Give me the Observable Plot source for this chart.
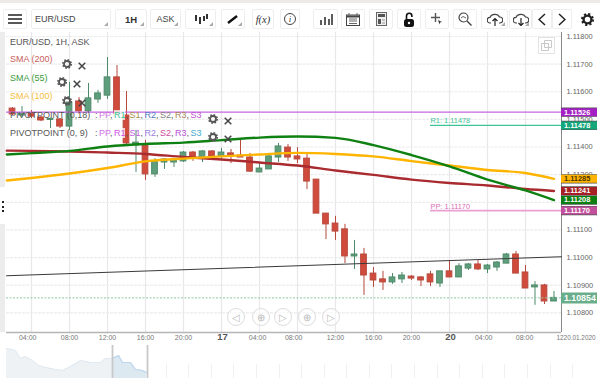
<!DOCTYPE html>
<html><head><meta charset="utf-8">
<script src="https://cdn.jsdelivr.net/npm/d3@7"></script>
<script src="https://cdn.jsdelivr.net/npm/@observablehq/plot@0.6"></script>
<style>
html,body{margin:0;padding:0;background:#fff;width:600px;height:378px;overflow:hidden;font-family:"Liberation Sans",Arial,sans-serif}
#wrap{position:relative;width:600px;height:378px;overflow:hidden}
#wrap>div>svg{display:block}
#main,#nav{position:absolute;left:0}
#main{top:0}#nav{top:345px}
.btn{position:absolute;top:9px;height:20px;border:1px solid #eee;box-sizing:border-box;background:#fff;border-radius:2px;display:flex;align-items:center;justify-content:center;font-size:9.5px;color:#333}
.btn.m::after{content:"";position:absolute;right:2px;bottom:2px;border-style:solid;border-width:0 0 4px 4px;border-color:transparent transparent #aaa transparent}
.lg{position:absolute;font-size:9px;line-height:12px;white-space:nowrap;color:#555}
.ic{position:absolute;width:10px;height:10px;display:block}
.ci{position:absolute;width:18px;height:18px;border:1px solid #ddd;border-radius:50%;box-sizing:border-box;top:308px;display:flex;align-items:center;justify-content:center;color:#bbb;font-size:10px;background:rgba(255,255,255,.5)}
</style></head><body><div id="wrap">
<div id="main"></div><div id="nav"></div>
<div style="position:absolute;left:0;top:0;width:600px;height:3px;background:#eeeaea"></div>
<div style="position:absolute;left:0;top:32px;width:5px;height:300px;background:#ececec"></div>
<div style="position:absolute;left:0;top:187px;width:5px;height:37px;background:#fff"></div>
<div style="position:absolute;left:2px;top:201px;width:2px;height:11px;font-size:0;background:repeating-linear-gradient(#222 0 2px,transparent 2px 4.5px)"></div>
<div id="bar"></div><div id="legend"></div><div id="cbtn"></div>
</div>
<script>
// Candles: hour index from 00:00 on the 16th
const hours=[2,3,4,5,6,7,8,9,10,11,12,13,14,15,16,17,18,19,20,21,22,23,24,25,26,27,28,29,30,31,32,33,34,35,36,37,38,39,40,41,42,43,44,45,46,47,48,49,50,51,52,53,54,55,56,57,58,59];
const opens=[1.11539,1.11514,1.11521,1.11507,1.11498,1.11500,1.11474,1.11565,1.11529,1.11572,1.11586,1.11652,1.11514,1.11406,1.11409,1.11301,1.11344,1.11344,1.11348,1.11380,1.11362,1.11384,1.11366,1.11377,1.11369,1.11362,1.11308,1.11319,1.11362,1.11398,1.11366,1.11358,1.11282,1.11159,1.11123,1.11102,1.11004,1.11011,1.10942,1.10921,1.10910,1.10921,1.10931,1.10928,1.10939,1.10906,1.10950,1.10928,1.10960,1.10975,1.10957,1.10964,1.10978,1.11011,1.10946,1.10892,1.10899,1.10841];
const closes=[1.11518,1.11521,1.11510,1.11496,1.11502,1.11474,1.11561,1.11529,1.11576,1.11594,1.11652,1.11521,1.11413,1.11416,1.11301,1.11348,1.11355,1.11355,1.11380,1.11362,1.11384,1.11366,1.11380,1.11369,1.11362,1.11311,1.11322,1.11366,1.11402,1.11362,1.11355,1.11275,1.11159,1.11120,1.11094,1.11004,1.11011,1.10935,1.10917,1.10910,1.10928,1.10935,1.10924,1.10917,1.10910,1.10950,1.10928,1.10968,1.10975,1.10957,1.10971,1.10982,1.11011,1.10942,1.10888,1.10899,1.10841,1.10854];
const highs=[1.11543,1.11547,1.11532,1.11510,1.11504,1.11503,1.11634,1.11579,1.11630,1.11605,1.11724,1.11695,1.11601,1.11460,1.11424,1.11358,1.11358,1.11358,1.11384,1.11384,1.11387,1.11387,1.11395,1.11391,1.11427,1.11377,1.11340,1.11377,1.11413,1.11409,1.11398,1.11380,1.11282,1.11159,1.11149,1.11120,1.11062,1.11033,1.10964,1.10950,1.10942,1.10946,1.10935,1.10931,1.10950,1.10950,1.10989,1.10978,1.10978,1.10989,1.10975,1.10986,1.11015,1.11022,1.10971,1.10913,1.10903,1.10877];
const lows=[1.11514,1.11507,1.11503,1.11492,1.11467,1.11467,1.11460,1.11521,1.11521,1.11558,1.11572,1.11514,1.11406,1.11308,1.11279,1.11290,1.11319,1.11326,1.11344,1.11348,1.11344,1.11351,1.11351,1.11340,1.11362,1.11308,1.11308,1.11319,1.11344,1.11348,1.11340,1.11246,1.11159,1.11065,1.11062,1.10978,1.10957,1.10863,1.10892,1.10881,1.10903,1.10906,1.10917,1.10895,1.10895,1.10892,1.10928,1.10928,1.10953,1.10953,1.10942,1.10950,1.10978,1.10942,1.10888,1.10827,1.10830,1.10841];

// Moving averages
const smaHours=[1.4,4,8,12,16,20,24,28,32,36,40,44,48,52,56,59];
const sma200=[1.11387,1.11386,1.11384,1.11380,1.11375,1.11364,1.11355,1.11344,1.11333,1.11315,1.11299,1.11282,1.11270,1.11261,1.11248,1.11241];
const sma55=[1.11373,1.11378,1.11386,1.11402,1.11411,1.11416,1.11425,1.11434,1.11438,1.11433,1.11407,1.11371,1.11330,1.11282,1.11243,1.11208];
const sma100=[1.11279,1.11288,1.11304,1.11324,1.11348,1.11358,1.11366,1.11373,1.11379,1.11375,1.11366,1.11349,1.11333,1.11317,1.11306,1.11285];

// Trend line and levels
const trendHours=[1.37,59.79];
const trendPrices=[1.10934,1.11003];
const tagPrices=[1.11526,1.11478,1.11285,1.11241,1.11208,1.11170,1.10854];
const tagColors=["#a41fc4","#15a77c","#ffb400","#a51f24","#0d7f10","#c2509c","#69ad8a"];
const tagInk=["#fff","#fff","#4a3500","#fff","#fff","#fff","#fff"];

// Axis ticks
const gridPrices=[1.118,1.117,1.116,1.115,1.114,1.113,1.112,1.111,1.110,1.109,1.108];
const priceLabels=[1.118,1.117,1.116,1.115,1.114,1.113,1.111,1.110,1.109,1.108];
const gridHours=[4,8,12,16,20,24,28,32,36,40,44,48,52,56];
const hourLabelAt=[3.6,8,12,16,20,27.8,31.6,36,40,44,51.6,55.9];
const hourLabels=["04:00","08:00","12:00","16:00","20:00","04:00","08:00","12:00","16:00","20:00","04:00","08:00"];
const dayLabelAt=[24.1,48.1];
const dayLabels=["17","20"];

// Navigator
const navX=[6,15,20,25,32,38,45,55,62,70,80,90,100,105,112,118,122,130,135,142,146];
const navV=[30,28,20,22,18,13,11,9,8,12,18,16,16,20,20,23,16,16,9,8,6];
const navTicks=[166,188,211,233,256,279,301,324,346,369,391,414,437,459,482,504,527,550,572];

const UP="#5f9e7c",DOWN="#d04b3b",UPW="#4d8a69",DOWNW="#b7493d";
const candles=hours.map((h,k)=>({h,o:opens[k],c:closes[k],hi:highs[k],lo:lows[k],up:closes[k]>=opens[k]}));
const line=(xs,ys)=>xs.map((x,k)=>({x,y:ys[k]}));
const tags=tagPrices.map((p,k)=>({p,col:tagColors[k],ink:tagInk[k],last:k===6}));
const tagL=59.79,tagR=63.58,tagText=60.05;

const chart=Plot.plot({
  width:600,height:345,marginTop:32,marginBottom:13,marginLeft:6,marginRight:39,
  style:{background:"#fff",fontFamily:"'Liberation Sans',Arial,sans-serif",overflow:"visible"},
  x:{domain:[1.368,59.79],axis:null},
  y:{domain:[1.107287,1.118145],axis:null},
  marks:[
    Plot.gridX(gridHours,{stroke:"#e9e6ec",strokeOpacity:1,strokeWidth:1.2}),
    Plot.gridY(gridPrices,{stroke:"#ececec",strokeOpacity:1,strokeWidth:1.2,strokeDasharray:"3 1"}),
    Plot.axisY({anchor:"right",ticks:priceLabels,tickFormat:d3.format(".5f"),tickSize:0,tickPadding:5,fontSize:7.4,fill:"#666",label:null}),
    Plot.ruleY([1.107287],{stroke:"#b5b5b5",strokeWidth:1.5}),
    Plot.ruleX([59.79],{stroke:"#888",strokeWidth:1}),
    Plot.ruleX(candles,{x:"h",y1:"lo",y2:"hi",stroke:d=>d.up?UPW:DOWNW,strokeWidth:1}),
    Plot.rect(candles,{x1:d=>d.h-0.3,x2:d=>d.h+0.3,y1:"o",y2:"c",fill:d=>d.up?UP:DOWN,stroke:d=>d.up?UPW:DOWNW,strokeWidth:1}),
    Plot.ruleY([1.11526],{x1:1.37,x2:59.79,stroke:"#c566e0",strokeWidth:1.3}),
    Plot.ruleY([1.11478],{x1:46,x2:59.79,stroke:"#3cc497",strokeWidth:1.2}),
    Plot.ruleY([1.1117],{x1:46,x2:59.79,stroke:"#eaa0d2",strokeWidth:1.8}),
    Plot.ruleY([1.10854],{x1:1.37,x2:59.79,stroke:"#8cc6a2",strokeWidth:1,strokeDasharray:"2 1.5"}),
    Plot.text(["R1: 1.11478"],{x:46,y:1.11478,dy:-2,textAnchor:"start",lineAnchor:"bottom",fontSize:7.4,fill:"#3cc497"}),
    Plot.text(["PP: 1.11170"],{x:46,y:1.1117,dy:-2,textAnchor:"start",lineAnchor:"bottom",fontSize:7.4,fill:"#d86fb6"}),
    Plot.line(line(trendHours,trendPrices),{x:"x",y:"y",stroke:"#3a3a3a",strokeWidth:1.1}),
    Plot.line(line(smaHours,sma200),{x:"x",y:"y",stroke:"#a92b2f",strokeWidth:2.4,curve:"monotone-x"}),
    Plot.line(line(smaHours,sma100),{x:"x",y:"y",stroke:"#ffb400",strokeWidth:2.4,curve:"monotone-x"}),
    Plot.line(line(smaHours,sma55),{x:"x",y:"y",stroke:"#0f8012",strokeWidth:2.4,curve:"monotone-x"}),
    Plot.ruleY(tags,{y:"p",x1:tagL,x2:tagR,stroke:d=>d.last?d.col:"#555",strokeWidth:d=>d.last?11:9.2}),
    Plot.ruleY(tags,{y:"p",x1:tagL,x2:tagR,stroke:"col",strokeWidth:8}),
    Plot.text(tags,{x:tagText,y:"p",text:d=>d.p.toFixed(5),fill:"ink",fontWeight:"bold",fontSize:d=>d.last?8.8:7.4,textAnchor:"start"}),
    Plot.text(hourLabels,{x:(d,k)=>hourLabelAt[k],frameAnchor:"bottom",dy:7,fontSize:7,fill:"#777"}),
    Plot.text(dayLabels,{x:(d,k)=>dayLabelAt[k],frameAnchor:"bottom",dy:7,fontSize:9.5,fontWeight:"bold",fill:"#555"}),
    Plot.text(["1220.01.2020"],{x:59.26,frameAnchor:"bottom",dy:7,textAnchor:"start",fontSize:6.4,fill:"#777"})
  ]
});
document.getElementById("main").append(chart);

const navPts=navX.map((x,k)=>({x,v:navV[k]}));
const nav=Plot.plot({
  width:600,height:33,margin:0,
  style:{background:"#fff",overflow:"hidden"},
  x:{domain:[0,600],axis:null},y:{domain:[0,33],axis:null},
  marks:[
    Plot.ruleX(navTicks,{y1:0,y2:14,stroke:"#f0f0f0"}),
    Plot.areaY(navPts,{x:"x",y:"v",fill:"#eef2f5"}),
    Plot.lineY(navPts,{x:"x",y:"v",stroke:"#e0e9f1",strokeWidth:1}),
    Plot.areaY(navPts.filter(d=>d.x>=112),{x:"x",y:"v",fill:"#dde9f0"}),
    Plot.lineY(navPts.filter(d=>d.x>=112),{x:"x",y:"v",stroke:"#bcd7ef",strokeWidth:1.2}),
    Plot.ruleX([112,147],{y1:0,y2:33,stroke:"#c8c8c8",strokeWidth:1.8})
  ]
});
document.getElementById("nav").append(nav);

// Toolbar
const S=(w,h,b)=>`<svg width="${w}" height="${h}" viewBox="0 0 ${w} ${h}">${b}</svg>`;
const buttons=[
 [3,24,S(14,10,'<path d="M0 1h14M0 5h14M0 9h14" stroke="#222" stroke-width="1.5"/>'),0],
 [31,80,'<span style="width:100%;padding-left:3px;font-size:9px;color:#444">EUR/USD</span>',1],
 [115,32,'<b style="color:#333">1H</b>',1],
 [150,31,'<span style="color:#444;font-size:9px">ASK</span>',1],
 [185,31,S(14,10,'<path d="M2 1v6M6 3v7M10 2v5M13 0v5" stroke="#333" stroke-width="2"/>'),1],
 [221,24,S(12,10,'<path d="M1 9L10 2" stroke="#111" stroke-width="2.4"/>'),1],
 [252,22,'<i style="font-family:\'Liberation Serif\',serif;font-size:10.5px;color:#333">f(x)</i>',0],
 [280,20,'<span style="width:12px;height:12px;border:1px solid #444;border-radius:50%;box-sizing:border-box;font:italic 9px/10px \'Liberation Serif\',serif;text-align:center;color:#333">i</span>',0],
 [313,25,S(14,12,'<path d="M2 12V7M6 12V4M10 12V6M13 12V1" stroke="#333" stroke-width="1.6"/>'),0],
 [341,24,S(14,13,'<rect x=".5" y="2" width="13" height="10.5" fill="none" stroke="#444"/><path d="M0 3.5h14" stroke="#444" stroke-width="2"/><path d="M3 0v3M11 0v3M3 6h8M3 8h8M3 10.5h8" stroke="#666"/>'),0],
 [369,24,S(11,14,'<rect x=".5" y=".5" width="10" height="13" fill="#eee" stroke="#666"/><rect x="2" y="2" width="7" height="3" fill="#555"/><rect x="2" y="7" width="3" height="5" fill="#555"/><path d="M6 8h3M6 11h3" stroke="#999"/>'),0],
 [397,24,S(12,15,'<path d="M3.5 7V4a2.7 2.7 0 0 1 5.4 0v1" fill="none" stroke="#111" stroke-width="1.6"/><rect x="1" y="7" width="10" height="8" rx="2.5" fill="#111"/><circle cx="6" cy="11" r="1.2" fill="#fff"/>'),0],
 [425,24,S(12,12,'<path d="M4.5 0v9M0 4.5h9" stroke="#555" stroke-width="1.4"/><path d="M7 7l4 2-2 .5-.5 2z" fill="#333"/>'),0],
 [453,24,S(14,14,'<circle cx="5.5" cy="5.5" r="4.5" fill="none" stroke="#444" stroke-width="1.2"/><path d="M9 9l4.5 4.5" stroke="#444" stroke-width="1.4"/><path d="M3 6l2-1.5L8 6" fill="none" stroke="#666"/>'),0],
 [481,27,S(16,13,'<path d="M4 10H3a2.6 2.6 0 0 1 0-5.6 5 4 0 0 1 9.5-.4 3 3 0 0 1 .5 6h-1" fill="none" stroke="#444" stroke-width="1.2"/><path d="M8 13V6M5.5 8L8 5.5 10.5 8" fill="none" stroke="#222" stroke-width="1.2"/>'),1],
 [509,23,S(16,13,'<path d="M4 10H3a2.6 2.6 0 0 1 0-5.6 5 4 0 0 1 9.5-.4 3 3 0 0 1 .5 6h-1" fill="none" stroke="#444" stroke-width="1.2"/><path d="M8 5v7M5.5 10L8 12.5 10.5 10" fill="none" stroke="#222" stroke-width="1.2"/>'),1],
 [532,20,S(8,13,'<path d="M7 1L1 6.5 7 12" fill="none" stroke="#222" stroke-width="1.5"/>'),0],
 [552,20,S(8,13,'<path d="M1 1l6 5.5L1 12" fill="none" stroke="#222" stroke-width="1.5"/>'),0]
];
const gearSvg=(sz,c)=>`<svg width="${sz}" height="${sz}" viewBox="0 0 10 10"><circle cx="5" cy="5" r="3" fill="none" stroke="${c}" stroke-width="1.8"/><circle cx="5" cy="5" r="4.2" fill="none" stroke="${c}" stroke-width="1.6" stroke-dasharray="1.65 1.65"/></svg>`;
document.getElementById("bar").innerHTML=buttons.map(([x,w,h,m])=>`<div class="btn${m?" m":""}" style="left:${x}px;width:${w}px">${h}</div>`).join("")
 +`<div class="btn" style="left:577px;width:20px;border:0">${gearSvg(13,"#222")}</div>`;

// Legend
const icons=(gx,xx,cy)=>`<span class="ic" style="left:${gx-5}px;top:${cy-5}px">${gearSvg(10,"#555")}</span><span class="ic" style="left:${xx-4}px;top:${cy-4}px"><svg width="8" height="8" viewBox="0 0 8 8"><path d="M.7.7l6.6 6.6M7.3.7L.7 7.3" stroke="#444" stroke-width="1.5"/></svg></span>`;
const pivotA=[["PP","#d070e0"],["R1","#3cc497"],["S1","#a89048"],["R2","#5578c8"],["S2","#808080"],["R3","#a88858"],["S3","#c050d0"]];
const pivotB=[["PP","#d070e8"],["R1","#d050e8"],["S1","#c060e0"],["R2","#9a80e0"],["S2","#d04c9c"],["R3","#b850d8"],["S3","#45aacc"]];
const piv=a=>": "+a.map(([t,c])=>`<span style="color:${c};${t==="R1"?"background:rgba(255,255,255,.75)":""}">${t}</span>`).join(", ");
const L=(x,y,t,c)=>`<div class="lg" style="left:${x}px;top:${y}px;${c?"color:"+c:""}">${t}</div>`;
document.getElementById("legend").innerHTML=
 L(10,36,"EUR/USD, 1H, ASK")
 +L(10,53,"SMA (200)","#c9605c")+icons(67,82,59.5)
 +L(10,72,"SMA (55)","#3b9a3e")+icons(62,77,78)
 +L(10,90,"SMA (100)","#f6bd3c")+icons(67,82,96.5)
 +L(10,109,"PIVOTPOINT (0,18)")+`<div class="lg" style="left:95px;top:109px;word-spacing:-1px">${piv(pivotA)}</div>`+icons(213,228,115)
 +L(10,127,"PIVOTPOINT (0, 9)")+`<div class="lg" style="left:95px;top:127px;word-spacing:-1px">${piv(pivotB)}</div>`+icons(213,228,133);

// Chart controls
const circles=[[227,"\u25C1"],[252,"\u2295"],[274,"\u25B7"],[298,"\u2295"],[322,"\u25B7"]];
document.getElementById("cbtn").innerHTML=circles.map(([x,t])=>`<div class="ci" style="left:${x}px">${t}</div>`).join("")
 +`<div style="position:absolute;left:538px;top:37px;width:17px;height:17px;border:1px solid #e3e3e3;box-sizing:border-box;display:flex;align-items:center;justify-content:center"><svg width="11" height="11" viewBox="0 0 11 11"><path d="M3.5.5h7v7h-7zM.5 3.5h7v7h-7z" fill="none" stroke="#c8c8c8"/></svg></div>`;
</script></body></html>
